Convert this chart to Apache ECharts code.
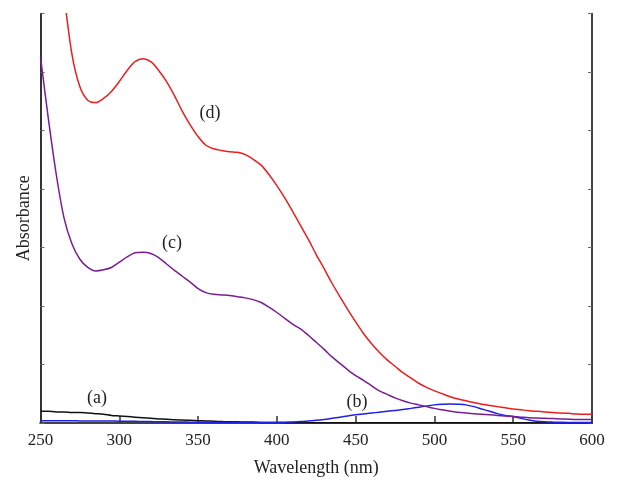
<!DOCTYPE html>
<html>
<head>
<meta charset="utf-8">
<script src="https://cdn.jsdelivr.net/npm/echarts@6/dist/echarts.min.js"></script>
<style>html,body{margin:0;padding:0;background:#fff;}#c{width:620px;height:501px;}</style>
</head>
<body>
<div id="c"></div>
<script>
const wavelengths = [250,255,260,265,270,275,280,285,290,295,300,305,310,315,320,325,330,335,340,345,350,355,360,365,370,375,380,385,390,395,400,405,410,415,420,425,430,435,440,445,450,455,460,465,470,475,480,485,490,495,500,505,510,515,520,525,530,535,540,545,550,555,560,565,570,575,580,585,590,595,600];

const seriesA = [0.2,0.2,0.19,0.19,0.18,0.18,0.17,0.16,0.15,0.13,0.12,0.11,0.1,0.09,0.08,0.07,0.065,0.055,0.05,0.045,0.04,0.035,0.03,0.025,0.02,0.02,0.015,0.015,0.01,0.01,0.01,0.005,0.005,0.005,0.005,0.005,0.005,0.005,0.005,0.005,0.005,0.005,0.005,0.005,0.005,0.005,0.005,0.005,0.005,0.005,0.005,0.005,0.005,0.005,0.005,0.005,0.005,0.005,0.005,0.005,0.005,0.005,0.005,0.005,0.005,0.005,0.005,0.005,0.005,0.005,0.005];

const seriesB = [0.04,0.04,0.04,0.038,0.038,0.036,0.036,0.035,0.034,0.033,0.032,0.03,0.028,0.026,0.024,0.022,0.02,0.018,0.016,0.014,0.012,0.011,0.01,0.009,0.008,0.008,0.008,0.008,0.008,0.01,0.01,0.013,0.018,0.025,0.035,0.045,0.06,0.08,0.1,0.12,0.14,0.155,0.17,0.185,0.2,0.215,0.23,0.25,0.27,0.29,0.31,0.32,0.325,0.32,0.31,0.28,0.24,0.2,0.16,0.13,0.11,0.08,0.05,0.03,0.02,0.015,0.012,0.01,0.01,0.01,0.01];

const seriesC = [6.26,5.2,4.25,3.5,3.06,2.8,2.66,2.6,2.62,2.66,2.75,2.84,2.91,2.92,2.9,2.83,2.72,2.61,2.51,2.41,2.3,2.23,2.2,2.19,2.18,2.16,2.14,2.11,2.06,1.98,1.89,1.79,1.69,1.61,1.5,1.38,1.26,1.13,1.02,0.91,0.81,0.73,0.64,0.55,0.49,0.43,0.38,0.34,0.31,0.28,0.25,0.225,0.2,0.185,0.17,0.16,0.15,0.14,0.13,0.12,0.11,0.1,0.09,0.085,0.08,0.075,0.07,0.065,0.06,0.06,0.06];

const seriesD = [10.3,9.3,8.3,7.3,6.3,5.75,5.52,5.48,5.55,5.67,5.84,6.03,6.18,6.23,6.18,6.03,5.84,5.6,5.33,5.1,4.9,4.75,4.69,4.66,4.64,4.63,4.59,4.51,4.41,4.25,4.06,3.85,3.62,3.38,3.14,2.88,2.64,2.39,2.16,1.94,1.73,1.53,1.36,1.21,1.08,0.97,0.86,0.77,0.68,0.61,0.55,0.5,0.45,0.41,0.38,0.35,0.32,0.3,0.28,0.26,0.24,0.225,0.21,0.2,0.19,0.18,0.17,0.165,0.155,0.15,0.15];

const seriesNames = ['(a)','(b)','(c)','(d)'];
const seriesColors = ['#111111','#1f1fe6','#7a1c96','#ee1c1c'];
// label anchor points in data space [wavelength, absorbance]
const labelAnchors = [[285.8,0.43],[450.8,0.36],[333.4,3.08],[357.6,5.30]];

const allValues = [seriesA, seriesB, seriesC, seriesD];
const FONT = '"Liberation Serif", "DejaVu Serif", serif';

const chart = echarts.init(document.getElementById('c'), null, {renderer:'canvas'});
const series = allValues.map((vals, i) => ({
  name: seriesNames[i],
  type: 'line',
  data: wavelengths.map((w, j) => [w, vals[j]]),
  showSymbol: false,
  smooth: 0.3,
  clip: true,
  lineStyle: {color: seriesColors[i], width: 1.5},
  itemStyle: {color: seriesColors[i]},
  z: 3 + i,
  markPoint: {
    symbol: 'circle', symbolSize: 0,
    label: {show: true, formatter: seriesNames[i], color: '#222', fontFamily: FONT, fontSize: 18, position: 'inside'},
    data: [{coord: labelAnchors[i], value: seriesNames[i]}]
  }
}));

chart.setOption({
  animation: false,
  backgroundColor: '#fff',
  grid: {left: 40.5, right: 28, top: 13.7, bottom: 78, containLabel: false},
  xAxis: [{
    type: 'value', min: 250, max: 600, interval: 50, position: 'bottom',
    name: 'Wavelength (nm)', nameLocation: 'middle', nameGap: 36,
    nameTextStyle: {fontFamily: FONT, fontSize: 18, color: '#222'},
    axisLine: {show: true, lineStyle: {color: '#333', width: 2}},
    axisTick: {show: true, inside: true, length: 7, lineStyle: {color: '#333', width: 1.5}},
    axisLabel: {show: true, fontFamily: FONT, fontSize: 17, color: '#222', margin: 9},
    splitLine: {show: false}
  },{
    type: 'value', min: 250, max: 600, interval: 50, position: 'top',
    axisLine: {show: true, lineStyle: {color: '#444', width: 2}},
    axisTick: {show: false}, axisLabel: {show: false}, splitLine: {show: false}
  }],
  yAxis: [{
    type: 'value', min: 0, max: 7, interval: 1, position: 'left',
    name: 'Absorbance', nameLocation: 'middle', nameGap: 7, nameRotate: 90,
    nameTextStyle: {fontFamily: FONT, fontSize: 18, color: '#222'},
    axisLine: {show: true, lineStyle: {color: '#333', width: 2}},
    axisTick: {show: true, inside: true, length: 4, lineStyle: {color: '#666', width: 1}},
    axisLabel: {show: false}, splitLine: {show: false}
  },{
    type: 'value', min: 0, max: 7, interval: 1, position: 'right',
    axisLine: {show: true, lineStyle: {color: '#444', width: 2}},
    axisTick: {show: true, inside: true, length: 4, lineStyle: {color: '#666', width: 1}},
    axisLabel: {show: false}, splitLine: {show: false}
  }],
  series: series
});
</script>
</body>
</html>
